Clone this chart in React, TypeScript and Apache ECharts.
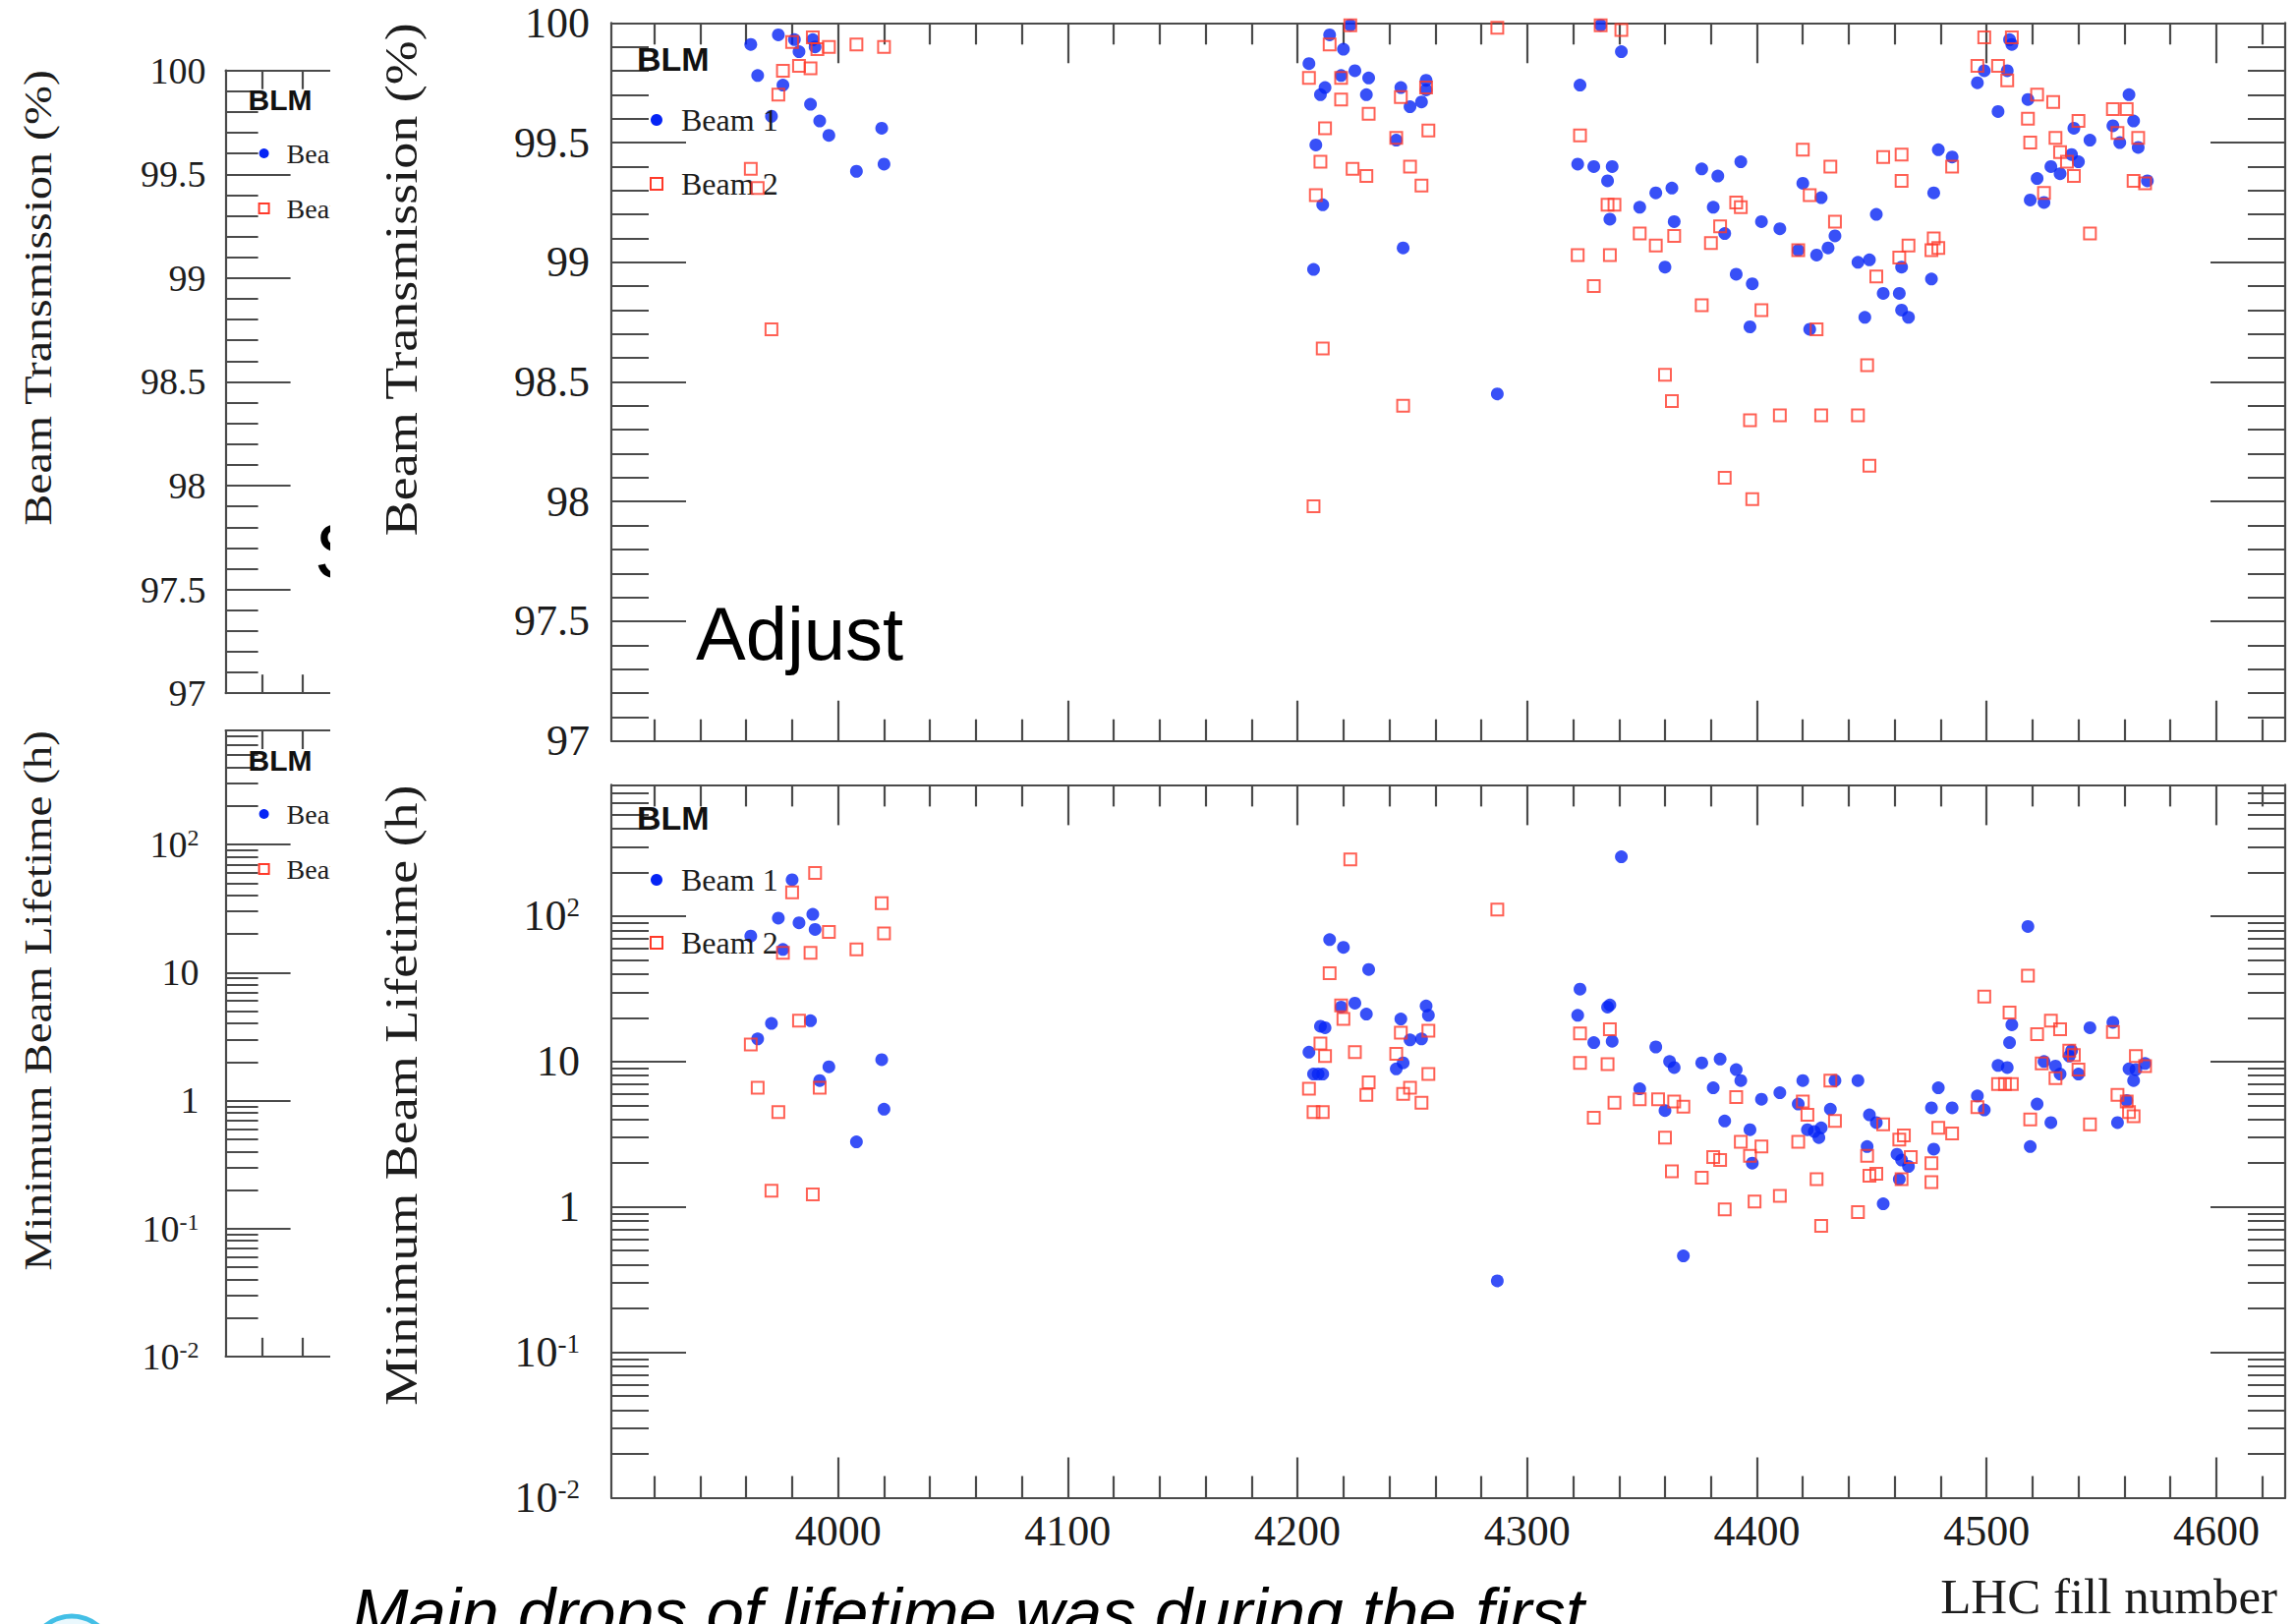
import React, { useEffect, useRef } from 'react';
import * as echarts from 'echarts';

// ---------- axis ranges / ticks ----------
const FILL_MIN = 3901.3;
const FILL_MAX = 4630;
const SMALL_FILL_MAX = 3954.1;

const fillMajorTicks = [4000, 4100, 4200, 4300, 4400, 4500, 4600];
const fillMinorTicks: number[] = [];
for (let v = 3920; v <= 4620; v += 20) if (v % 100 !== 0) fillMinorTicks.push(v);
const smallFillTicks = [3920, 3940];

const transMin = 97;
const transMax = 100;
const transMajorTicks = [97, 97.5, 98, 98.5, 99, 99.5, 100];
const transMinorTicks: number[] = [];
for (let i = 971; i < 1000; i++) if (i % 5 !== 0) transMinorTicks.push(i / 10);

const lifeMin = 0.01;
const lifeMax = 800;
const smallLifeMax = 780;
const lifeMajorTicks = [0.01, 0.1, 1, 10, 100];
const lifeTickLabels = ['10{sup|-2}', '10{sup|-1}', '1', '10', '10{sup|2}'];
const lifeMinorTicks: number[] = [];
for (const d of lifeMajorTicks) for (let k = 2; k <= 9; k++) {
  const v = Number((k * d).toPrecision(3));
  if (v < 780) lifeMinorTicks.push(v);
}

// ---------- data: [LHC fill, value] ----------
const beam1Transmission: [number, number][] = [
  [3962, 99.91], [3965, 99.78], [3971, 99.61], [3974, 99.95], [3976, 99.74], [3981, 99.93], [3983, 99.88],
  [3988, 99.66], [3989, 99.93], [3990, 99.90], [3992, 99.59], [3996, 99.53], [4008, 99.38], [4019, 99.56], [4020, 99.41],
  [4205, 99.83], [4208, 99.49], [4207, 98.97], [4211, 99.24], [4210, 99.70], [4212, 99.73], [4214, 99.95],
  [4220, 99.89], [4223, 99.99], [4219, 99.78], [4225, 99.80], [4231, 99.77], [4230, 99.70], [4243, 99.51],
  [4246, 99.06], [4245, 99.73], [4249, 99.65], [4254, 99.67], [4256, 99.76], [4256, 99.72],
  [4287, 98.45],
  [4323, 99.74], [4322, 99.41], [4329, 99.40], [4337, 99.40], [4335, 99.34], [4332, 99.99], [4341, 99.88], [4336, 99.18],
  [4349, 99.23], [4356, 99.29], [4363, 99.31], [4364, 99.17], [4360, 98.98], [4376, 99.39], [4383, 99.36],
  [4393, 99.42], [4381, 99.23], [4386, 99.12], [4391, 98.95], [4398, 98.91], [4397, 98.73], [4402, 99.17],
  [4410, 99.14], [4420, 99.33], [4428, 99.27], [4418, 99.05], [4426, 99.03], [4423, 98.72], [4431, 99.06],
  [4434, 99.11], [4444, 99.00], [4449, 99.01], [4452, 99.20], [4447, 98.77], [4455, 98.87], [4462, 98.87],
  [4463, 98.98], [4463, 98.80], [4466, 98.77], [4476, 98.93], [4477, 99.29], [4479, 99.47], [4485, 99.44],
  [4496, 99.75], [4499, 99.80], [4505, 99.63], [4509, 99.80], [4510, 99.93], [4511, 99.91], [4518, 99.68],
  [4522, 99.35], [4519, 99.26], [4525, 99.25], [4528, 99.40], [4532, 99.37], [4537, 99.45], [4540, 99.42],
  [4538, 99.56], [4545, 99.51], [4555, 99.57], [4558, 99.50], [4562, 99.70], [4564, 99.59], [4566, 99.48], [4570, 99.34],
];

const beam2Transmission: [number, number][] = [
  [3962, 99.39], [3965, 99.31], [3971, 98.72], [3974, 99.70], [3976, 99.80], [3980, 99.92], [3983, 99.82],
  [3988, 99.81], [3989, 99.94], [3991, 99.89], [3996, 99.90], [4008, 99.91], [4020, 99.90],
  [4205, 99.77], [4207, 97.98], [4208, 99.28], [4210, 99.42], [4211, 98.64], [4212, 99.56], [4214, 99.91],
  [4219, 99.77], [4219, 99.68], [4223, 99.99], [4224, 99.39], [4230, 99.36], [4231, 99.62], [4243, 99.52],
  [4246, 98.40], [4245, 99.69], [4249, 99.40], [4254, 99.32], [4256, 99.73], [4257, 99.55],
  [4287, 99.98],
  [4323, 99.53], [4322, 99.03], [4329, 98.90], [4332, 99.99], [4341, 99.97], [4335, 99.24], [4338, 99.24], [4336, 99.03],
  [4349, 99.12], [4356, 99.07], [4364, 99.11], [4360, 98.53], [4363, 98.42], [4376, 98.82], [4380, 99.08],
  [4384, 99.15], [4386, 98.10], [4391, 99.25], [4393, 99.23], [4397, 98.34], [4398, 98.01], [4402, 98.80],
  [4410, 98.36], [4418, 99.05], [4420, 99.47], [4423, 99.28], [4426, 98.72], [4428, 98.36], [4432, 99.40],
  [4434, 99.17], [4444, 98.36], [4448, 98.57], [4449, 98.15], [4452, 98.94], [4455, 99.44], [4462, 99.02],
  [4463, 99.45], [4463, 99.34], [4466, 99.07], [4476, 99.05], [4477, 99.10], [4479, 99.06], [4485, 99.40],
  [4496, 99.82], [4499, 99.94], [4505, 99.82], [4509, 99.76], [4511, 99.94], [4518, 99.60], [4519, 99.50],
  [4522, 99.70], [4529, 99.67], [4525, 99.29], [4530, 99.52], [4532, 99.46], [4538, 99.36], [4535, 99.42],
  [4540, 99.59], [4545, 99.12], [4555, 99.64], [4561, 99.64], [4557, 99.54], [4566, 99.52], [4564, 99.34], [4569, 99.33],
];

const beam1Lifetime: [number, number][] = [
  [3962, 73], [3965, 14.3], [3971, 18.3], [3974, 97], [3976, 59], [3980, 178], [3983, 90], [3989, 103],
  [3990, 81], [3988, 19.1], [3996, 9.2], [3992, 7.4], [4008, 2.8], [4019, 10.3], [4020, 4.7],
  [4205, 11.6], [4207, 8.2], [4209, 8.2], [4211, 8.2], [4210, 17.5], [4212, 17.1], [4214, 69], [4220, 61],
  [4219, 23.7], [4225, 25.2], [4231, 43], [4230, 21.2], [4243, 8.9], [4246, 9.8], [4245, 19.6], [4249, 14.1],
  [4254, 14.3], [4256, 24.1], [4257, 20.8],
  [4287, 0.31],
  [4323, 31.5], [4322, 20.8], [4329, 13.5], [4335, 23.7], [4336, 24.5], [4337, 13.8], [4341, 256],
  [4349, 6.5], [4356, 12.6], [4360, 4.6], [4362, 10.0], [4364, 9.1], [4368, 0.46], [4376, 9.8], [4384, 10.4],
  [4381, 6.6], [4386, 3.9], [4391, 8.8], [4393, 7.4], [4397, 3.4], [4398, 2.0], [4402, 5.5], [4410, 6.1],
  [4418, 5.1], [4420, 7.4], [4422, 3.4], [4425, 3.3], [4427, 3.0], [4428, 3.5], [4432, 4.7], [4434, 7.4],
  [4444, 7.4], [4448, 2.6], [4449, 4.3], [4452, 3.8], [4455, 1.05], [4461, 2.3], [4462, 1.55], [4463, 2.1],
  [4466, 1.9], [4476, 4.8], [4477, 2.5], [4479, 6.6], [4485, 4.8],
  [4496, 5.8], [4499, 4.65], [4505, 9.4], [4509, 9.1], [4510, 13.5], [4511, 17.9], [4518, 85], [4522, 5.1],
  [4519, 2.6], [4525, 10.0], [4528, 3.8], [4530, 9.3], [4532, 8.2], [4536, 10.9], [4537, 11.9], [4540, 8.2],
  [4545, 17.1], [4555, 18.6], [4557, 3.8], [4561, 5.4], [4562, 8.9], [4564, 7.4], [4565, 8.8], [4569, 9.7],
];

const beam2Lifetime: [number, number][] = [
  [3962, 13.1], [3965, 6.6], [3971, 1.29], [3974, 4.5], [3976, 56], [3980, 146], [3983, 19.1], [3988, 56],
  [3989, 1.22], [3990, 198], [3992, 6.6], [3996, 78], [4008, 59], [4019, 123], [4020, 76],
  [4205, 6.5], [4207, 4.5], [4211, 4.5], [4210, 13.3], [4212, 10.9], [4214, 40.5], [4219, 24.3], [4220, 19.6],
  [4223, 246], [4225, 11.6], [4230, 5.9], [4231, 7.2], [4243, 11.3], [4245, 15.8], [4246, 6.0], [4249, 6.6],
  [4254, 5.2], [4257, 16.3], [4257, 8.2],
  [4287, 111],
  [4323, 15.6], [4323, 9.8], [4329, 4.1], [4336, 16.7], [4335, 9.6], [4338, 5.2],
  [4349, 5.5], [4357, 5.5], [4364, 5.3], [4368, 4.9], [4360, 3.0], [4363, 1.76], [4376, 1.59], [4381, 2.2],
  [4384, 2.1], [4386, 0.96], [4391, 5.7], [4393, 2.8], [4397, 2.25], [4399, 1.09], [4402, 2.6], [4410, 1.19],
  [4418, 2.8], [4420, 5.3], [4422, 4.3], [4426, 1.55], [4428, 0.74], [4432, 7.4], [4434, 3.9], [4444, 0.92],
  [4448, 2.25], [4449, 1.64], [4452, 1.69], [4455, 3.7], [4462, 2.9], [4463, 1.55], [4464, 3.1], [4467, 2.2],
  [4476, 2.0], [4476, 1.48], [4479, 3.5], [4485, 3.2],
  [4496, 4.85], [4499, 28], [4505, 7.0], [4508, 7.0], [4511, 7.0], [4510, 21.7], [4518, 39], [4519, 4.0],
  [4522, 15.4], [4524, 9.7], [4528, 19.1], [4530, 7.7], [4532, 16.7], [4536, 11.9], [4538, 11.1], [4540, 8.8],
  [4545, 3.7], [4555, 16.0], [4557, 5.9], [4561, 5.3], [4562, 4.5], [4564, 4.2], [4565, 10.9], [4569, 9.3],
];

// ---------- styles ----------
const AXIS_COLOR = '#4a4a4a';
const TEXT_COLOR = '#1c1c1c';
const BLUE = '#0624f5';
const RED = '#ff3a2a';
const SERIF = '"Liberation Serif", "Times New Roman", serif';
const SANS = '"Liberation Sans", Arial, sans-serif';

function xAxis(gridIndex: number, position: string, max: number, ticks: number[], tickLen: number, line: boolean, labels: boolean) {
  return {
    type: 'value', gridIndex, position, min: FILL_MIN, max,
    axisLine: { show: line, onZero: false, lineStyle: { color: AXIS_COLOR, width: 2.2 } },
    axisTick: { show: true, inside: true, length: tickLen, customValues: ticks, lineStyle: { color: AXIS_COLOR, width: 2.2 } },
    axisLabel: labels
      ? { show: true, customValues: ticks, margin: 12, fontSize: 44, fontFamily: SERIF, color: TEXT_COLOR, formatter: (v: number) => String(Math.round(v)) }
      : { show: false },
    splitLine: { show: false },
    z: 3,
  };
}

function yAxis(gridIndex: number, position: string, log: boolean, max: number, ticks: number[], tickLen: number, line: boolean, label: any) {
  return {
    type: log ? 'log' : 'value', logBase: 10, gridIndex, position,
    min: log ? lifeMin : transMin, max,
    axisLine: { show: line, onZero: false, lineStyle: { color: AXIS_COLOR, width: 2.2 } },
    axisTick: { show: true, inside: true, length: tickLen, customValues: ticks, lineStyle: { color: AXIS_COLOR, width: 2.2 } },
    axisLabel: label ? { show: true, customValues: ticks, ...label } : { show: false },
    splitLine: { show: false },
    z: 3,
  };
}

const transLabel = (size: number, margin: number) => ({
  margin, fontSize: size, fontFamily: SERIF, color: TEXT_COLOR,
  formatter: (v: number) => String(Math.round(v * 10) / 10),
});
const lifeLabel = (size: number, margin: number) => ({
  margin, fontSize: size, fontFamily: SERIF, color: TEXT_COLOR, lineHeight: size,
  formatter: (v: number) => lifeTickLabels[Math.round(Math.log10(v)) + 2],
  rich: { sup: { fontSize: Math.round(size * 0.62), fontFamily: SERIF, color: TEXT_COLOR, verticalAlign: 'top' } },
});

function vTitle(text: string, x: number, y: number, size: number) {
  return {
    type: 'text', x, y, rotation: Math.PI / 2, scaleY: 0.85,
    style: { text, fontSize: size, fontFamily: SERIF, fill: TEXT_COLOR, textAlign: 'right', textVerticalAlign: 'middle' },
  };
}
function txt(text: string, x: number, y: number, size: number, extra: any = {}) {
  return {
    type: 'text', x, y, z: extra.z ?? 5,
    style: { text, fontSize: size, fontFamily: extra.family ?? SERIF, fontWeight: extra.weight ?? 'normal', fontStyle: extra.fontStyle ?? 'normal', fill: extra.fill ?? TEXT_COLOR, textAlign: extra.align ?? 'left', textVerticalAlign: 'middle' },
  };
}
function legend(x: number, y1: number, y2: number, textX: number, r: number, size: number) {
  return [
    { type: 'circle', z: 5, shape: { cx: x, cy: y1, r }, style: { fill: BLUE } },
    { type: 'rect', z: 5, shape: { x: x - r, y: y2 - r, width: 2 * r, height: 2 * r }, style: { fill: 'none', stroke: RED, lineWidth: 2 } },
    txt('Beam 1', textX, y1, size),
    txt('Beam 2', textX, y2, size),
  ];
}

export default function App() {
  const ref = useRef<HTMLDivElement>(null);
  useEffect(() => {
    if (!ref.current) return;
    const chart = echarts.init(ref.current, null, { renderer: 'svg' });
    const grid = (left: number, top: number, width: number, height: number) => ({ left, top, width, height, containLabel: false, outerBoundsMode: 'none', show: false });
    const option: any = {
      animation: false,
      backgroundColor: '#ffffff',
      grid: [
        grid(622, 23.3, 1703, 730.4),
        grid(622, 798.4, 1703, 725.1),
        grid(229.6, 71.7, 106.2, 633.5),
        grid(229.6, 743, 106.2, 636.8),
      ],
      xAxis: [
        xAxis(0, 'bottom', FILL_MAX, fillMajorTicks, 41, true, false),
        xAxis(0, 'bottom', FILL_MAX, fillMinorTicks, 22, false, false),
        xAxis(0, 'top', FILL_MAX, fillMajorTicks, 41, true, false),
        xAxis(0, 'top', FILL_MAX, fillMinorTicks, 22, false, false),
        xAxis(1, 'bottom', FILL_MAX, fillMajorTicks, 41, true, true),
        xAxis(1, 'bottom', FILL_MAX, fillMinorTicks, 22, false, false),
        xAxis(1, 'top', FILL_MAX, fillMajorTicks, 41, true, false),
        xAxis(1, 'top', FILL_MAX, fillMinorTicks, 22, false, false),
        xAxis(2, 'bottom', SMALL_FILL_MAX, smallFillTicks, 19, true, false),
        xAxis(2, 'top', SMALL_FILL_MAX, smallFillTicks, 19, true, false),
        xAxis(3, 'bottom', SMALL_FILL_MAX, smallFillTicks, 19, true, false),
        xAxis(3, 'top', SMALL_FILL_MAX, smallFillTicks, 19, true, false),
      ],
      yAxis: [
        yAxis(0, 'left', false, transMax, transMajorTicks, 76, true, transLabel(44, 22)),
        yAxis(0, 'left', false, transMax, transMinorTicks, 38, false, null),
        yAxis(0, 'right', false, transMax, transMajorTicks, 76, true, null),
        yAxis(0, 'right', false, transMax, transMinorTicks, 38, false, null),
        yAxis(1, 'left', true, lifeMax, lifeMajorTicks, 76, true, lifeLabel(44, 32)),
        yAxis(1, 'left', true, lifeMax, lifeMinorTicks, 38, false, null),
        yAxis(1, 'right', true, lifeMax, lifeMajorTicks, 76, true, null),
        yAxis(1, 'right', true, lifeMax, lifeMinorTicks, 38, false, null),
        yAxis(2, 'left', false, transMax, transMajorTicks, 66, true, transLabel(38, 20)),
        yAxis(2, 'left', false, transMax, transMinorTicks, 33, false, null),
        yAxis(3, 'left', true, smallLifeMax, lifeMajorTicks, 66, true, lifeLabel(38, 27)),
        yAxis(3, 'left', true, smallLifeMax, lifeMinorTicks, 33, false, null),
      ],
      series: [
        { name: 'Beam 1', type: 'scatter', xAxisIndex: 0, yAxisIndex: 0, data: beam1Transmission, symbol: 'circle', symbolSize: 13, itemStyle: { color: BLUE }, silent: true, z: 4 },
        { name: 'Beam 2', type: 'scatter', xAxisIndex: 0, yAxisIndex: 0, data: beam2Transmission, symbol: 'rect', symbolSize: 12, itemStyle: { color: 'rgba(0,0,0,0)', borderColor: RED, borderWidth: 2 }, silent: true, z: 5 },
        { name: 'Beam 1', type: 'scatter', xAxisIndex: 4, yAxisIndex: 4, data: beam1Lifetime, symbol: 'circle', symbolSize: 13, itemStyle: { color: BLUE }, silent: true, z: 4 },
        { name: 'Beam 2', type: 'scatter', xAxisIndex: 4, yAxisIndex: 4, data: beam2Lifetime, symbol: 'rect', symbolSize: 12, itemStyle: { color: 'rgba(0,0,0,0)', borderColor: RED, borderWidth: 2 }, silent: true, z: 5 },
      ],
      graphic: {
        elements: [
          // background slide fragments (left, partly hidden plot copy)
          vTitle('Beam Transmission (%)', 38, 71, 48),
          vTitle('Minimum Beam Lifetime (h)', 38, 743, 47),
          txt('BLM', 252.6, 101, 30, { family: SANS, weight: 'bold', fill: '#111' }),
          ...legend(268.6, 156, 212, 291.6, 5, 28),
          txt('BLM', 252.6, 773, 30, { family: SANS, weight: 'bold', fill: '#111' }),
          ...legend(268.6, 828, 884, 291.6, 5, 28),
          txt('S', 320, 560, 80, { family: SANS, fill: '#000' }),
          { type: 'rect', z: 20, shape: { x: 336, y: 0, width: 44, height: 1420 }, style: { fill: '#ffffff' } },
          // main figure texts
          vTitle('Beam Transmission (%)', 408.5, 23.3, 54),
          vTitle('Minimum Beam Lifetime (h)', 408.5, 798.4, 54),
          txt('LHC fill number', 2317, 1624, 51, { align: 'right' }),
          txt('BLM', 648, 59.5, 34, { family: SANS, weight: 'bold', fill: '#111' }),
          ...legend(668, 122, 187, 693, 6, 32),
          txt('BLM', 648, 831.5, 34, { family: SANS, weight: 'bold', fill: '#111' }),
          ...legend(668, 895, 959, 693, 6, 32),
          // slide texts
          txt('Adjust', 708, 644, 76, { family: SANS, fill: '#000' }),
          txt('Main drops of lifetime was during the first', 358, 1640, 69, { family: SANS, fontStyle: 'italic', fill: '#000' }),
          { type: 'ellipse', z: 1, shape: { cx: 73, cy: 1702, rx: 48, ry: 58 }, style: { fill: '#eaf8fd', stroke: '#43bfe6', lineWidth: 5 } },
        ],
      },
    };
    chart.setOption(option);
    return () => chart.dispose();
  }, []);
  return (
    <div
      ref={ref}
      style={{ position: 'fixed', left: 0, top: 0, width: 2336, height: 1652, background: '#fff' }}
    />
  );
}
